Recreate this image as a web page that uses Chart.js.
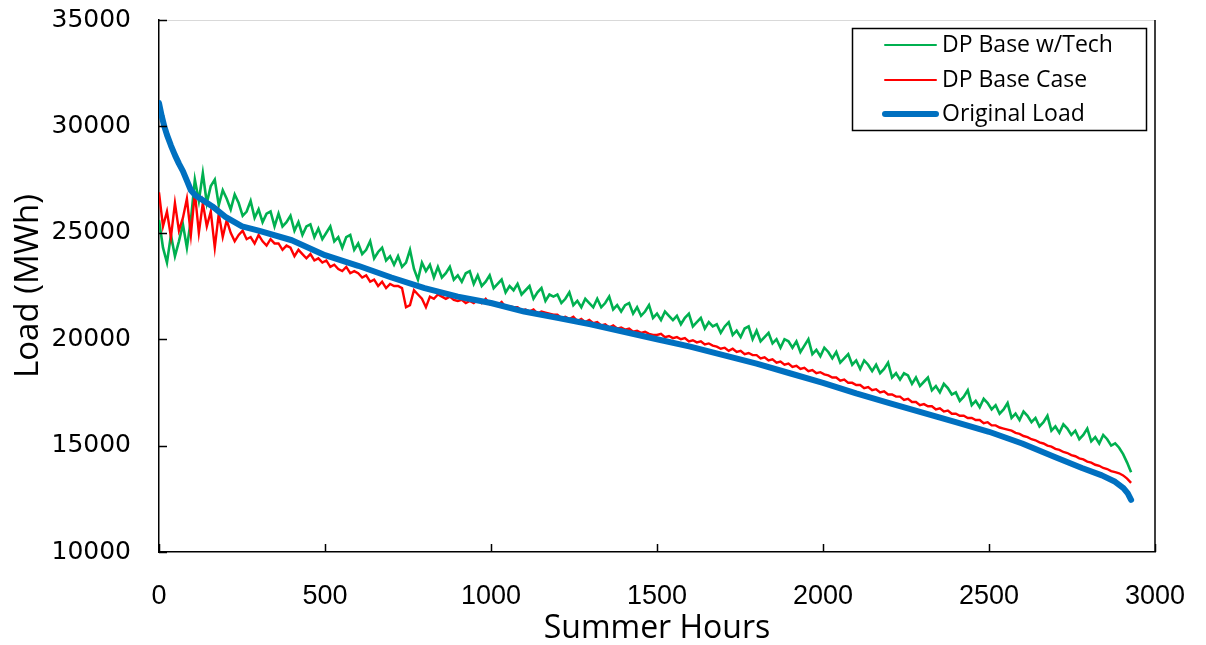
<!DOCTYPE html>
<html lang="en">
<head>
<meta charset="utf-8">
<title>Summer Load Duration</title>
<script src="https://cdn.jsdelivr.net/npm/chart.js"></script>
<style>
  body { margin: 0; background: #fff; }
</style>
</head>
<body>
<canvas id="loadChart" width="1206" height="645"></canvas>
<script>
// hours run 0..2928 in 12 hour steps for the two DP series
const HOUR_STEP = 12;

const techLoad = [
  25600, 24300, 23600, 24900, 23900, 24600, 25400, 24300, 25600, 27500,
  26500, 27800, 26400, 27200, 27500, 26300, 27000, 26600, 26100, 26800,
  26400, 25800, 26000, 26500, 25700, 26100, 25500, 25900, 26000, 25300,
  25900, 25300, 25500, 25800, 25100, 25500, 24900, 25300, 25400, 24800,
  25200, 24700, 25000, 25300, 24600, 24800, 24300, 24800, 24900, 24200,
  24500, 24000, 24200, 24600, 23800, 24100, 24300, 23700, 23900, 23500,
  23900, 23400, 23600, 24200, 23300, 22800, 23600, 23200, 23500, 22900,
  23400, 22900, 23100, 23400, 22800, 23000, 22700, 23100, 23200, 22600,
  23000, 22500, 22700, 23000, 22400, 22600, 22800, 22200, 22500, 22300,
  22600, 22100, 22300, 22500, 21900, 22200, 22400, 21800, 22100, 22000,
  22100, 21700, 21900, 22200, 21600, 21800, 21500, 21900, 21700, 21500,
  21900, 21500, 21700, 22000, 21400, 21600, 21300, 21600, 21700, 21200,
  21500, 21100, 21300, 21600, 21000, 21200, 20900, 21300, 21100, 20900,
  21100, 20700, 21000, 21200, 20600, 20800, 21000, 20500, 20800, 20600,
  20700, 20300, 20600, 20800, 20200, 20400, 20100, 20500, 20600, 20000,
  20400, 19900, 20100, 20300, 19800, 20000, 19600, 20000, 19900, 19600,
  19900, 19400, 19700, 20000, 19300, 19500, 19200, 19600, 19400, 19100,
  19400, 18900, 19100, 19300, 18800, 19000, 18600, 19000, 18800, 18500,
  18800, 18400, 18600, 18900, 18200, 18400, 18100, 18400, 18300, 17900,
  18200, 17800, 18000, 18200, 17600, 17800, 17500, 17900, 17700, 17400,
  17500, 17100, 17300, 17600, 16900, 17100, 16800, 17200, 17000, 16700,
  16900, 16500, 16700, 17000, 16300, 16500, 16200, 16600, 16400, 16100,
  16300, 15900, 16100, 16400, 15700, 15900, 15600, 16000, 15800, 15500,
  15700, 15300, 15500, 15800, 15200, 15400, 15100, 15500, 15300, 15000,
  15100, 14900, 14600, 14200, 13750
];

const baseLoad = [
  26900, 25300, 26000, 24800, 26400, 25100, 25700, 26600, 24900, 26900,
  25000, 26400, 25300, 26000, 24300, 25900, 24800, 25600, 25000, 24600,
  24900, 25100, 24700, 24800, 24500, 24900, 24600, 24400, 24700, 24500,
  24500, 24200, 24400, 24300, 23900, 24200, 24000, 23800, 24000, 23700,
  23800, 23600, 23700, 23400, 23500, 23300, 23200, 23400, 23100, 23200,
  23100, 22900, 23000, 22700, 22800, 22500, 22700, 22400, 22600, 22500,
  22500, 22400, 21500, 21600, 22300, 22100, 21900, 21500, 22000, 21900,
  22100, 22000, 21900, 22000, 21850, 21800, 21850, 21700, 21800, 21700,
  21850, 21700, 21900, 21650, 21700, 21600, 21750, 21500, 21550, 21500,
  21500, 21350, 21400, 21300, 21400, 21200, 21300, 21250, 21200, 21150,
  21150, 21000, 21050, 20950, 21050, 20850, 20950, 20800, 20900, 20750,
  20800, 20650, 20700, 20550, 20650, 20500, 20550, 20450, 20500, 20350,
  20400, 20300, 20350, 20250, 20200, 20200, 20250, 20100, 20150, 20050,
  20100, 20000, 20050, 19900, 19950, 19850, 19900, 19750, 19800, 19700,
  19650, 19550, 19600, 19450, 19550, 19400, 19450, 19300, 19350, 19250,
  19250, 19100, 19150, 19000, 19050, 18900, 18950, 18800, 18850, 18700,
  18750, 18600, 18650, 18500, 18550, 18400, 18450, 18350, 18300, 18200,
  18200, 18050, 18100, 17950, 17950, 17850, 17850, 17700, 17750, 17600,
  17650, 17500, 17550, 17400, 17400, 17300, 17300, 17150, 17200, 17050,
  17050, 16900, 16950, 16850, 16850, 16700, 16750, 16600, 16650, 16500,
  16500, 16400, 16400, 16300, 16300, 16200, 16200, 16050, 16100, 15950,
  15950, 15850, 15800, 15750, 15700, 15600, 15550, 15450, 15400, 15300,
  15250, 15150, 15100, 15000, 14950, 14850, 14800, 14700, 14650, 14550,
  14500, 14400, 14350, 14250, 14200, 14100, 14050, 13950, 13900, 13800,
  13750, 13700, 13600, 13450, 13250
];

// original load is smooth, so fewer points
const origHours = [0, 8, 16, 24, 36, 48, 60, 72, 84, 96, 110, 130, 160, 200, 250, 300,
  400, 500, 600, 700, 800, 900, 1000, 1100, 1200, 1300, 1400, 1500, 1600, 1700, 1800,
  1900, 2000, 2100, 2200, 2300, 2400, 2500, 2600, 2700, 2780, 2840, 2880, 2905, 2918, 2928];
const origLoad = [31100, 30500, 30000, 29600, 29100, 28650, 28250, 27900, 27450, 27000,
  26750, 26550, 26250, 25750, 25300, 25100, 24650, 23950, 23450, 22900, 22400, 22000,
  21700, 21300, 21000, 20700, 20350, 20000, 19650, 19250, 18850, 18400, 17950, 17450,
  17000, 16550, 16100, 15650, 15100, 14450, 13950, 13600, 13300, 13000, 12750, 12450];

const xTicks = [0, 500, 1000, 1500, 2000, 2500, 3000];
const yTicks = [10000, 15000, 20000, 25000, 30000, 35000];

const seriesNames = ['DP Base w/Tech', 'DP Base Case', 'Original Load'];
const seriesColors = ['#00B050', '#FF0000', '#0070C0'];

const hours = baseLoad.map((v, i) => i * HOUR_STEP);
const toPoints = (xs, ys) => ys.map((v, i) => ({ x: xs[i], y: v }));

// inward tick marks, top/right edges of the plot box and the boxed legend
const boxPlugin = {
  id: 'boxPlugin',
  afterDraw(chart) {
    const { ctx, chartArea: a, scales: { x, y } } = chart;
    ctx.save();
    ctx.strokeStyle = '#d9d9d9';
    ctx.lineWidth = 1;
    ctx.beginPath();
    ctx.moveTo(a.left, a.top + 0.5);
    ctx.lineTo(a.right, a.top + 0.5);
    ctx.stroke();

    ctx.strokeStyle = '#000';
    ctx.lineWidth = 1.5;
    ctx.beginPath();
    ctx.moveTo(a.right, a.top);
    ctx.lineTo(a.right, a.bottom);
    yTicks.forEach(v => {
      const py = Math.round(y.getPixelForValue(v)) + 0.5;
      ctx.moveTo(a.left, py);
      ctx.lineTo(a.left + 8, py);
    });
    xTicks.forEach(v => {
      const px = Math.round(x.getPixelForValue(v)) + 0.5;
      ctx.moveTo(px, a.bottom);
      ctx.lineTo(px, a.bottom - 8);
    });
    ctx.stroke();

    ctx.lineWidth = 1.5;
    ctx.strokeRect(852.5, 28.5, 294, 102);
    const rows = [45, 80, 114];
    const widths = [2, 2, 6];
    ctx.font = '23px "Open Sans"';
    ctx.textBaseline = 'middle';
    ctx.fillStyle = '#000';
    rows.forEach((ry, i) => {
      ctx.strokeStyle = seriesColors[i];
      ctx.lineWidth = widths[i];
      ctx.lineCap = 'round';
      ctx.beginPath();
      ctx.moveTo(885, ry);
      ctx.lineTo(936, ry);
      ctx.stroke();
      ctx.fillText(seriesNames[i], 942, ry);
    });
    ctx.restore();
  }
};

// tick marks are hidden (drawn inward by the plugin), their length only spaces the labels
const hiddenGrid = {
  display: true,
  drawOnChartArea: false,
  drawTicks: true,
  tickLength: 25,
  tickColor: 'rgba(0,0,0,0)'
};

new Chart(document.getElementById('loadChart'), {
  type: 'line',
  data: {
    datasets: [
      {
        label: seriesNames[2],
        data: toPoints(origHours, origLoad),
        borderColor: seriesColors[2],
        borderWidth: 6,
        borderCapStyle: 'round',
        borderJoinStyle: 'round'
      },
      {
        label: seriesNames[1],
        data: toPoints(hours, baseLoad),
        borderColor: seriesColors[1],
        borderWidth: 2.4
      },
      {
        label: seriesNames[0],
        data: toPoints(hours, techLoad),
        borderColor: seriesColors[0],
        borderWidth: 2.6
      }
    ]
  },
  options: {
    responsive: false,
    animation: false,
    elements: { point: { radius: 0 }, line: { tension: 0 } },
    layout: { padding: { top: 20, right: 51, left: 0, bottom: 0 } },
    plugins: { legend: { display: false }, tooltip: { enabled: false } },
    scales: {
      x: {
        type: 'linear',
        min: 0,
        max: 3000,
        afterBuildTicks: s => { s.ticks = xTicks.map(v => ({ value: v })); },
        afterFit: s => { s.height = 93; },
        grid: hiddenGrid,
        border: { color: '#000', width: 1.5 },
        ticks: {
          padding: 3,
          color: '#000',
          font: { family: '"Liberation Sans"', size: 27 },
          callback: v => String(v)
        },
        title: {
          display: true,
          text: 'Summer Hours',
          color: '#000',
          font: { family: '"Open Sans"', size: 32 },
          padding: { top: 0, bottom: -3 }
        }
      },
      y: {
        min: 10000,
        max: 35000,
        afterBuildTicks: s => { s.ticks = yTicks.map(v => ({ value: v })); },
        afterFit: s => { s.width = 159; },
        grid: hiddenGrid,
        border: { color: '#000', width: 1.5 },
        ticks: {
          padding: 3,
          color: '#000',
          font: { family: '"DejaVu Sans"', size: 25 },
          callback: v => String(v)
        },
        title: {
          display: true,
          text: 'Load (MWh)',
          color: '#000',
          font: { family: '"Open Sans"', size: 33 },
          padding: { top: 9, bottom: 0 }
        }
      }
    }
  },
  plugins: [boxPlugin]
});
</script>
</body>
</html>
